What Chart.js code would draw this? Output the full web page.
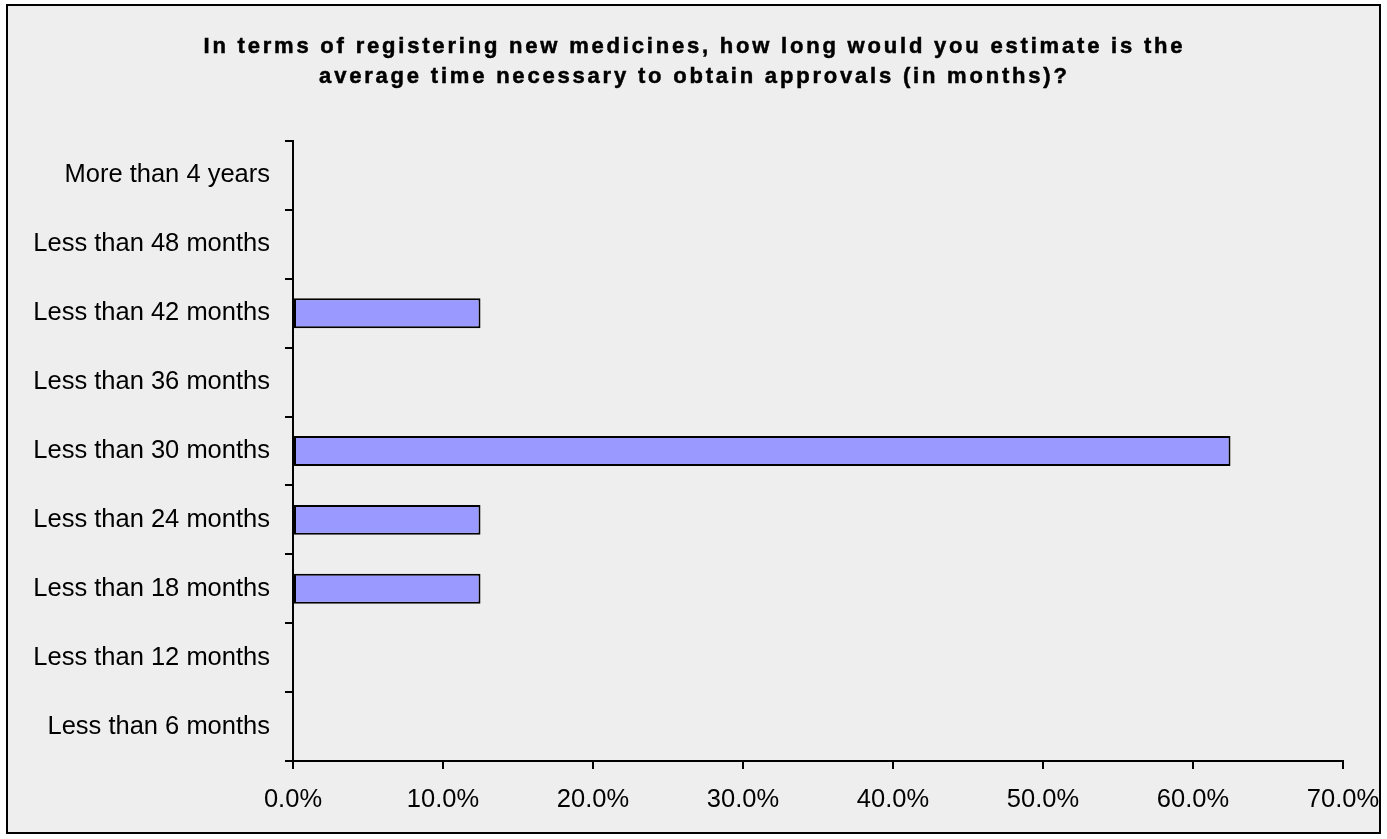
<!DOCTYPE html>
<html>
<head>
<meta charset="utf-8">
<script src="https://cdn.jsdelivr.net/npm/chart.js@4/dist/chart.umd.min.js"></script>
<style>
  html, body { margin: 0; padding: 0; background: #fff; }
  canvas { display: block; }
</style>
</head>
<body>
<canvas id="c" width="1387" height="839"></canvas>
<script>
const categories = [
  'Less than 6 months', 'Less than 12 months', 'Less than 18 months',
  'Less than 24 months', 'Less than 30 months', 'Less than 36 months',
  'Less than 42 months', 'Less than 48 months', 'More than 4 years',
];
const shares = [0, 0, 12.5, 12.5, 62.5, 0, 12.5, 0, 0];
const xTicks = [0, 10, 20, 30, 40, 50, 60, 70];
const titleLines = [
  'In terms of registering new medicines, how long would you estimate is the',
  'average time necessary to obtain approvals (in months)?',
];

const FONT = "'Liberation Sans', Arial, sans-serif";

// grey panel with black frame behind everything
const framePlugin = {
  id: 'frame',
  beforeDraw(chart) {
    const { ctx } = chart;
    ctx.save();
    ctx.fillStyle = '#EEEEEE';
    ctx.fillRect(7, 5, 1373, 828);
    ctx.strokeStyle = '#000';
    ctx.lineWidth = 2;
    ctx.strokeRect(7, 5, 1373, 828);
    ctx.restore();
  },
};

// title drawn by hand: the original is letter-spaced, which the title plugin can't do
const spacedTitle = {
  id: 'spacedTitle',
  afterDraw(chart) {
    const { ctx } = chart;
    const sp = 2.8;
    ctx.save();
    ctx.font = `bold 22px ${FONT}`;
    ctx.letterSpacing = sp + 'px';
    ctx.fillStyle = '#000';
    ctx.strokeStyle = '#000';
    ctx.lineWidth = 0.5;
    ctx.textAlign = 'left';
    ctx.textBaseline = 'alphabetic';
    titleLines.forEach((line, i) => {
      const w = ctx.measureText(line).width - sp;
      const x = 693 - w / 2, y = 53 + i * 30;
      ctx.fillText(line, x, y);
      ctx.strokeText(line, x, y);
    });
    ctx.restore();
  },
};

new Chart(document.getElementById('c'), {
  type: 'bar',
  data: {
    labels: categories,
    datasets: [{
      data: shares,
      backgroundColor: '#9999FF',
      borderColor: '#000',
      borderWidth: 2,
      borderSkipped: false,
      barPercentage: 0.435,
      categoryPercentage: 1,
    }],
  },
  options: {
    indexAxis: 'y',
    responsive: false,
    animation: false,
    layout: { padding: { top: 141, left: 0, right: 44, bottom: 0 } },
    plugins: {
      legend: { display: false },
      tooltip: { enabled: false },
      title: { display: false },
    },
    scales: {
      x: {
        min: 0, max: 70,
        afterBuildTicks: s => { s.ticks = xTicks.map(v => ({ value: v })); },
        afterFit: s => { s.height = 78; s.paddingLeft = 0; s.paddingRight = 0; },
        border: { display: true, color: '#000', width: 2 },
        grid: { display: true, drawOnChartArea: false, drawTicks: true, tickLength: 8, color: '#000', lineWidth: 2 },
        ticks: { color: '#000', font: { family: FONT, size: 25.5 }, padding: 16, callback: v => v.toFixed(1) + '%' },
      },
      y: {
        reverse: true,
        afterFit: s => { s.width = 293; s.paddingTop = 0; s.paddingBottom = 0; },
        border: { display: true, color: '#000', width: 2 },
        grid: { display: true, offset: true, drawOnChartArea: false, drawTicks: true, tickLength: 8, color: '#000', lineWidth: 2 },
        ticks: { color: '#000', font: { family: FONT, size: 25.5 }, padding: 15 },
      },
    },
  },
  plugins: [framePlugin, spacedTitle],
});
</script>
</body>
</html>
